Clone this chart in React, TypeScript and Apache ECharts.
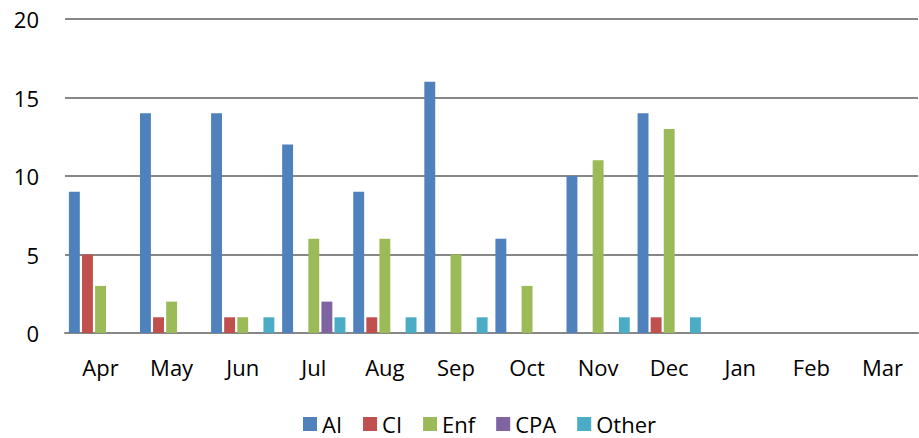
import React, { useEffect, useRef } from "react";
import * as echarts from "echarts";

const months = ["Apr", "May", "Jun", "Jul", "Aug", "Sep", "Oct", "Nov", "Dec", "Jan", "Feb", "Mar"];
const ai = [9, 14, 14, 12, 9, 16, 6, 10, 14, 0, 0, 0];
const ci = [5, 1, 1, 0, 1, 0, 0, 0, 1, 0, 0, 0];
const enf = [3, 2, 1, 6, 6, 5, 3, 11, 13, 0, 0, 0];
const cpa = [0, 0, 0, 2, 0, 0, 0, 0, 0, 0, 0, 0];
const other = [0, 0, 1, 1, 1, 1, 0, 1, 1, 0, 0, 0];

const seriesDefs = [
  { name: "AI", data: ai, color: "#4F81BD" },
  { name: "CI", data: ci, color: "#C0504D" },
  { name: "Enf", data: enf, color: "#9BBB59" },
  { name: "CPA", data: cpa, color: "#8064A2" },
  { name: "Other", data: other, color: "#4BACC6" },
];

const FONT = "'Open Sans', 'Liberation Sans', sans-serif";

export default function App() {
  const ref = useRef<HTMLDivElement>(null);
  useEffect(() => {
    if (!ref.current) return;
    const chart = echarts.init(ref.current, null, { renderer: "svg" });
    chart.setOption({
      animation: false,
      textStyle: { fontFamily: FONT },
      grid: { left: 65, right: 1, top: 19, bottom: 105, containLabel: false },
      legend: {
        top: 406,
        left: 298,
        itemWidth: 14,
        itemHeight: 14,
        itemGap: 21,
        icon: "rect",
        textStyle: { fontSize: 22, color: "#000", fontFamily: FONT, lineHeight: 26 },
        data: seriesDefs.map((s) => s.name),
      },
      xAxis: {
        type: "category",
        data: months,
        axisTick: { show: false },
        axisLine: { lineStyle: { color: "#878787", width: 2 } },
        axisLabel: { fontSize: 22, color: "#000", margin: 23, fontFamily: FONT },
      },
      yAxis: {
        type: "value",
        min: 0,
        max: 20,
        interval: 5,
        axisLine: { show: false },
        axisTick: { show: false },
        splitLine: { lineStyle: { color: "#878787", width: 2 } },
        axisLabel: { fontSize: 22, color: "#000", margin: 26, fontFamily: FONT },
      },
      series: seriesDefs.map((s) => ({
        name: s.name,
        type: "bar",
        data: s.data,
        barGap: "20%",
        barCategoryGap: "11%",
        itemStyle: { color: s.color },
      })),
    });
    return () => chart.dispose();
  }, []);
  return (
    <div
      ref={ref}
      style={{ position: "absolute", left: 0, top: 0, width: 919, height: 438 }}
    />
  );
}
